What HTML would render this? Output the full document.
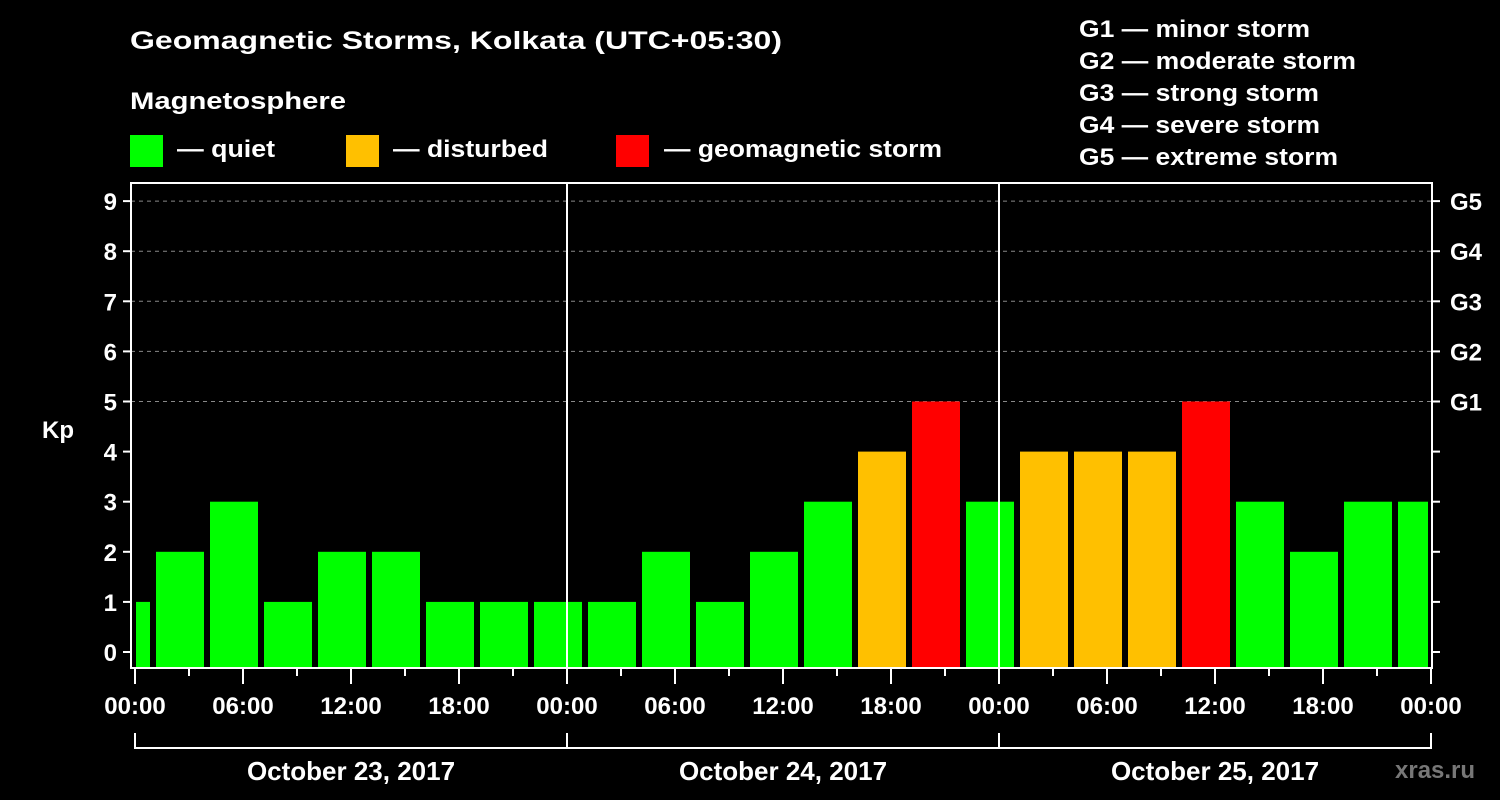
<!DOCTYPE html>
<html><head><meta charset="utf-8"><style>
html,body{margin:0;padding:0;background:#000;}
svg{display:block;}
text{font-family:"Liberation Sans",Arial,sans-serif;font-weight:bold;fill:#fff;}
</style></head><body>
<svg id="chart" width="1500" height="800" viewBox="0 0 1500 800">
<rect width="1500" height="800" fill="#000"/>
<text x="130" y="49" font-size="25" textLength="652" lengthAdjust="spacingAndGlyphs">Geomagnetic Storms, Kolkata (UTC+05:30)</text>
<text x="130" y="109" font-size="24" textLength="216" lengthAdjust="spacingAndGlyphs">Magnetosphere</text>
<g><rect x="130" y="135" width="33" height="32" fill="#00ff00"/><text x="177" y="157" font-size="24" textLength="98" lengthAdjust="spacingAndGlyphs">— quiet</text></g>
<g><rect x="346" y="135" width="33" height="32" fill="#ffc000"/><text x="393" y="157" font-size="24" textLength="155" lengthAdjust="spacingAndGlyphs">— disturbed</text></g>
<g><rect x="616" y="135" width="33" height="32" fill="#ff0000"/><text x="664" y="157" font-size="24" textLength="278" lengthAdjust="spacingAndGlyphs">— geomagnetic storm</text></g>
<g>
<text x="1079" y="37" font-size="24" textLength="231" lengthAdjust="spacingAndGlyphs">G1 — minor storm</text>
<text x="1079" y="69" font-size="24" textLength="277" lengthAdjust="spacingAndGlyphs">G2 — moderate storm</text>
<text x="1079" y="101" font-size="24" textLength="240" lengthAdjust="spacingAndGlyphs">G3 — strong storm</text>
<text x="1079" y="133" font-size="24" textLength="241" lengthAdjust="spacingAndGlyphs">G4 — severe storm</text>
<text x="1079" y="165" font-size="24" textLength="259" lengthAdjust="spacingAndGlyphs">G5 — extreme storm</text>
</g>
<g id="plot"></g>
<text x="1395" y="778" font-size="24" fill="#777" style="fill:#777">xras.ru</text>
</svg>
<script>
const kpValues=[1,2,3,1,2,2,1,1,1,1,2,1,2,3,4,5,3,4,4,4,5,3,2,3,3];
const yTicks=[0,1,2,3,4,5,6,7,8,9];
const gLabels=["G1","G2","G3","G4","G5"];
const xTickLabels=["00:00","06:00","12:00","18:00","00:00","06:00","12:00","18:00","00:00","06:00","12:00","18:00","00:00"];
const dayLabels=["October 23, 2017","October 24, 2017","October 25, 2017"];
const firstSlotHour=-2; // first 3-h slot starts at hour -2 (clipped)
const NS="http://www.w3.org/2000/svg";
const plot=document.getElementById('plot');
const L=131,R=1432,T=183,B=668,X0=135,PXH=18;
function xs(h){return X0+h*PXH;}
function ys(v){return 652-v*50.1;}
function mk(tag,attrs,parent){const e=document.createElementNS(NS,tag);for(const k in attrs)e.setAttribute(k,attrs[k]);(parent||plot).appendChild(e);return e;}
// gridlines
for(const v of yTicks){if(v>=5){const g=mk('line',{x1:L,x2:R,y1:ys(v),y2:ys(v),stroke:'#888','stroke-dasharray':'4,4','stroke-width':1});

}}
// bars
kpValues.forEach((v,i)=>{
 const h0=firstSlotHour+3*(i-0)-3+3;
 let x1=xs(firstSlotHour+3*i)+3, x2=xs(firstSlotHour+3*i+3)-3;
 if(i===0){x1=Math.max(x1,L+5);}
 x2=Math.min(x2,R-4);
 const c=v>=5?'#ff0000':(v>=4?'#ffc000':'#00ff00');
 const r=mk('rect',{x:x1,y:ys(v),width:x2-x1,height:B-ys(v),fill:c});
 
 
});
// frame
const fr=mk('rect',{x:L,y:T,width:R-L,height:B-T,fill:'none',stroke:'#fff','stroke-width':2});


// day separators
for(let d=1;d<3;d++){const s=mk('line',{x1:xs(24*d),x2:xs(24*d),y1:T,y2:B,stroke:'#fff','stroke-width':2});

}
// y ticks
yTicks.forEach(v=>{
 mk('line',{x1:L-8,x2:L,y1:ys(v),y2:ys(v),stroke:'#fff','stroke-width':2});
 mk('line',{x1:R,x2:R+8,y1:ys(v),y2:ys(v),stroke:'#fff','stroke-width':2});
 const t=mk('text',{x:L-14,y:ys(v)+9,'font-size':24,'text-anchor':'end'});t.textContent=v;
 
 
});
gLabels.forEach((g,i)=>{const t=mk('text',{x:1450,y:ys(i+5)+9,'font-size':24});t.textContent=g;
 
 });
const kp=mk('text',{x:42,y:438,'font-size':24});kp.textContent='Kp';


// x ticks
for(let h=0;h<=72;h+=3){const major=h%6===0;mk('line',{x1:xs(h),x2:xs(h),y1:B,y2:B+(major?16:8),stroke:'#fff','stroke-width':2});}
xTickLabels.forEach((lab,i)=>{const t=mk('text',{x:xs(6*i*1)+0,y:714,'font-size':24,'text-anchor':'middle'});t.setAttribute('x',xs(i*6));t.textContent=lab;
 
 });
// day brackets
mk('line',{x1:xs(0),x2:xs(72),y1:748,y2:748,stroke:'#fff','stroke-width':2});
for(let d=0;d<=3;d++)mk('line',{x1:xs(24*d),x2:xs(24*d),y1:733,y2:749,stroke:'#fff','stroke-width':2});
dayLabels.forEach((lab,d)=>{const t=mk('text',{x:xs(24*d+12),y:780,'font-size':26,'text-anchor':'middle'});t.textContent=lab;
 
 });
</script>
</body></html>
